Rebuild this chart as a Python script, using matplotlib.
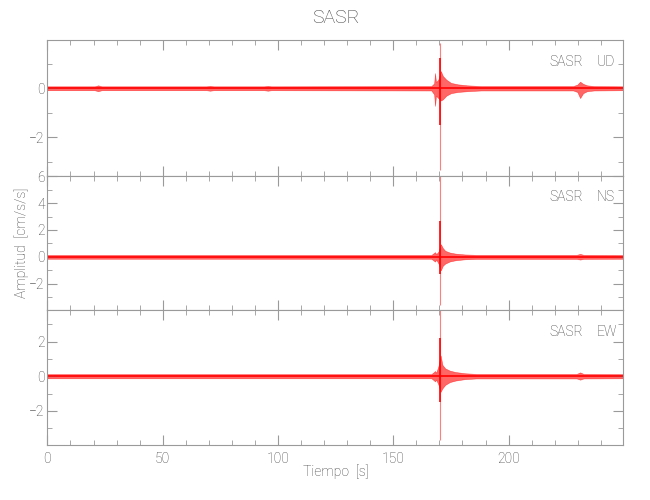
import matplotlib.pyplot as plt
from matplotlib.ticker import MultipleLocator

TITLE = "SASR"
STATION = "SASR"
COMPONENTS = ["UD", "NS", "EW"]
T_END = 249.6

# envelope knots: time (s), upper / lower amplitude (cm/s/s)
ud_t = [0, 20.5, 22, 23.5, 69, 70.5, 72, 94, 95.6, 97, 166.5, 167.7, 168.1, 168.5,
        169.5, 170.6, 171.5, 173, 175, 178, 182, 188, 228, 229.8, 231, 232.3, 234, 237, 249.6]
ud_hi = [.08, .08, .12, .08, .08, .1, .08, .08, .1, .08, .09, .2, .62, .25,
         .35, .7, .5, .35, .22, .16, .12, .09, .09, .15, .27, .18, .12, .09, .08]
ud_lo = [-.08, -.08, -.12, -.08, -.08, -.1, -.08, -.08, -.1, -.08, -.09, -.25, -.72, -.3,
         -.4, -.5, -.45, -.3, -.2, -.15, -.12, -.09, -.09, -.15, -.4, -.2, -.12, -.09, -.08]

ns_t = [0, 166.5, 167.7, 168.1, 168.6, 169.6, 170.6, 171.5, 172.5, 174.5, 177, 181, 186,
        229.5, 231, 232.5, 249.6]
ns_hi = [.14, .14, .3, .35, .2, .4, .94, .65, .45, .32, .24, .18, .15, .15, .22, .15, .14]
ns_lo = [-.14, -.14, -.3, -.35, -.2, -.5, -1.0, -.65, -.5, -.34, -.25, -.18, -.15, -.15, -.2, -.15, -.14]

ew_t = [0, 166.5, 167.7, 168.1, 168.6, 169.6, 170.5, 171.3, 172.5, 174.5, 177, 181, 186,
        229.5, 231, 232.5, 249.6]
ew_hi = [.12, .12, .25, .3, .2, .6, 1.2, .65, .45, .32, .24, .17, .13, .13, .22, .13, .12]
ew_lo = [-.12, -.12, -.25, -.3, -.2, -.5, -.9, -.7, -.5, -.34, -.25, -.17, -.13, -.13, -.2, -.13, -.12]

# main arrival at ~170 s: (full low, full high, core low, core high)
spike_t = 170.1
ud_spike = [-3.32, 1.85, -1.5, 1.23]
ns_spike = [-3.6, 6.0, -1.3, 2.67]
ew_spike = [-3.7, 3.9, -1.5, 2.2]

ylims = [(-3.56, 1.97), (-3.95, 6.05), (-3.97, 3.82)]

GREY = "#9a9a9a"
TXT = "#404040"
plt.rcParams["font.family"] = ["Roboto", "DejaVu Sans"]
plt.rcParams["font.weight"] = "light"

fig = plt.figure(figsize=(6.5, 5), dpi=100)
left, right = 47.4 / 650, 623 / 650
edges = [40, 175.5, 310, 445]

traces = [(ud_t, ud_hi, ud_lo, ud_spike), (ns_t, ns_hi, ns_lo, ns_spike), (ew_t, ew_hi, ew_lo, ew_spike)]
axes = []
for i, (t, hi, lo, sp) in enumerate(traces):
    top = 1 - edges[i] / 500
    bot = 1 - edges[i + 1] / 500
    ax = fig.add_axes([left, bot, right - left, top - bot])
    axes.append(ax)

    ax.fill_between(t, lo, hi, color="red", alpha=0.6, lw=0.4)
    ax.axhline(0, color="red", lw=1.2)
    ax.vlines(spike_t, sp[0], sp[1], color="red", lw=0.8, alpha=0.5)
    ax.vlines(spike_t, sp[2], sp[3], color="red", lw=1.2)

    ax.set_xlim(0, T_END)
    ax.set_ylim(*ylims[i])
    ax.xaxis.set_major_locator(MultipleLocator(50))
    ax.xaxis.set_minor_locator(MultipleLocator(10))
    ax.yaxis.set_major_locator(MultipleLocator(2))
    ax.yaxis.set_minor_locator(MultipleLocator(1))
    ax.tick_params(which="both", direction="in", top=True, right=True,
                   color=GREY, labelcolor=TXT, labelsize=10, pad=2)
    ax.tick_params(which="major", length=7)
    ax.tick_params(which="minor", length=3.6)
    ax.tick_params(axis="x", pad=5)
    for s in ax.spines.values():
        s.set_color(GREY)
    if i < 2:
        ax.tick_params(labelbottom=False)

    ax.text(0.931, 0.84, STATION, transform=ax.transAxes, ha="right", va="center",
            color=TXT, fontsize=10)
    ax.text(0.955, 0.84, COMPONENTS[i], transform=ax.transAxes, ha="left", va="center",
            color=TXT, fontsize=10)

fig.text(0.516, 0.964, TITLE, ha="center", va="center", color=TXT, fontsize=14)
fig.text(0.516, 0.057, "Tiempo  [s]", ha="center", va="center", color=TXT, fontsize=10)
fig.text(0.034, 0.515, "Amplitud  [cm/s/s]", ha="center", va="center", rotation=90,
         color=TXT, fontsize=10)

fig.savefig("out.png", dpi=100)
